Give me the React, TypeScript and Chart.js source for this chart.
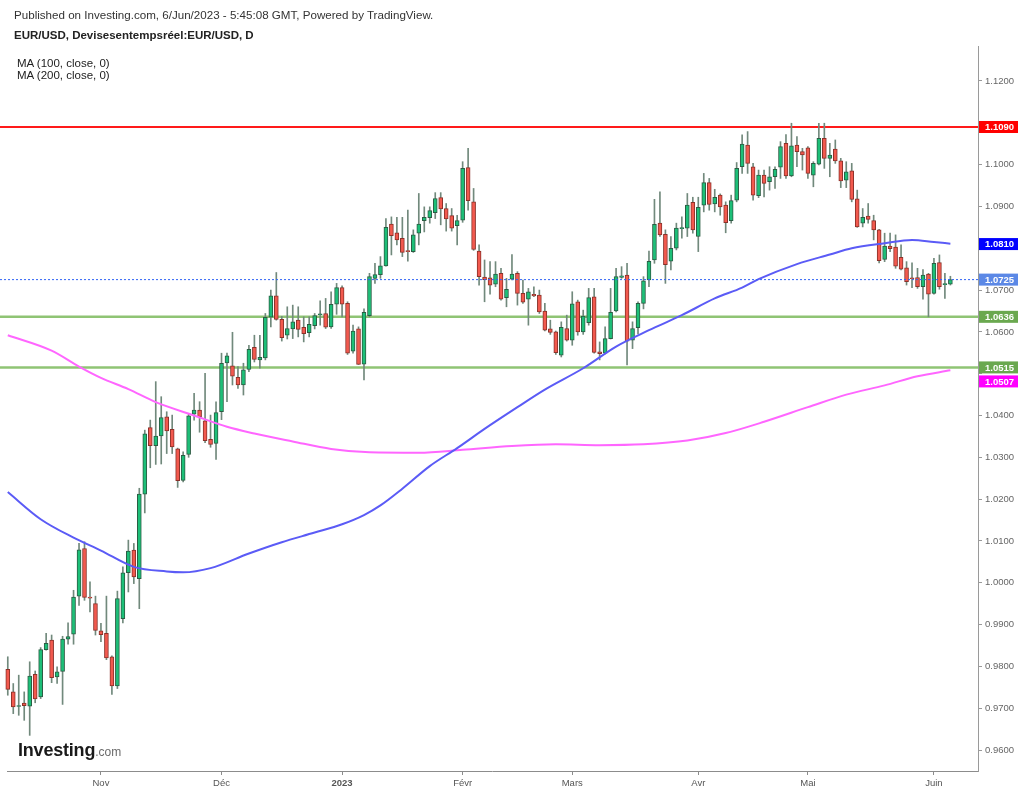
import React, { useEffect, useRef } from "react";
import { Chart, registerables } from "chart.js";

Chart.register(...registerables);

// ---------- DATA ----------
const opens = [
  0.9793, 0.9739, 0.9704, 0.9712, 0.9705, 0.9781, 0.9727, 0.984, 0.9863, 0.9775,
  0.9788, 0.9865, 0.9877, 0.9968, 1.0082, 0.9966, 0.995, 0.9885, 0.9879, 0.9823,
  0.9753, 0.9914, 1.0024, 1.0078, 1.001, 1.0212, 1.0371, 1.0328, 1.0351, 1.0397,
  1.0367, 1.032, 1.0245, 1.0307, 1.0403, 1.0413, 1.0387, 1.0343, 1.0333, 1.0409,
  1.0526, 1.0519, 1.0491, 1.0473, 1.051, 1.0563, 1.0533, 1.0538, 1.0635, 1.0686,
  1.063, 1.0592, 1.0607, 1.0628, 1.0611, 1.0598, 1.0615, 1.0641, 1.0644, 1.0612,
  1.0666, 1.0706, 1.0668, 1.0554, 1.0607, 1.0523, 1.0639, 1.0728, 1.0737, 1.0758,
  1.0858, 1.0837, 1.0824, 1.0794, 1.0792, 1.0836, 1.0866, 1.0873, 1.0885, 1.0921,
  1.0895, 1.0878, 1.0854, 1.0867, 1.0993, 1.0911, 1.0793, 1.0731, 1.0729, 1.0714,
  1.074, 1.0682, 1.0726, 1.074, 1.0692, 1.0678, 1.069, 1.0688, 1.065, 1.0607,
  1.06, 1.0544, 1.0608, 1.058, 1.0672, 1.06, 1.0622, 1.0684, 1.0552, 1.0549,
  1.0584, 1.065, 1.073, 1.0736, 1.058, 1.061, 1.0668, 1.0724, 1.0772, 1.086,
  1.0833, 1.0769, 1.08, 1.0847, 1.0848, 1.091, 1.0828, 1.0903, 1.0957, 1.0906,
  1.0927, 1.0903, 1.0866, 1.0915, 1.0995, 1.1047, 1.0995, 1.0926, 1.0975, 1.0959,
  1.0971, 1.0994, 1.1051, 1.0973, 1.1047, 1.1031, 1.104, 1.0975, 1.1001, 1.1063,
  1.1015, 1.1037, 1.1009, 1.0963, 1.0985, 1.0918, 1.086, 1.0877, 1.0866, 1.0844,
  1.0773, 1.0805, 1.0803, 1.0778, 1.0753, 1.0729, 1.073, 1.0708, 1.0738, 1.0692,
  1.0766, 1.0713, 1.0714,
];

const highs = [
  0.9823, 0.9759, 0.9779, 0.9739, 0.9811, 0.9789, 0.9845, 0.9879, 0.9875, 0.9799,
  0.9872, 0.9904, 0.9982, 1.0094, 1.0098, 1.0002, 0.9968, 0.9903, 0.9968, 0.9825,
  0.998, 1.0038, 1.0102, 1.0094, 1.0226, 1.0365, 1.0389, 1.0481, 1.0445, 1.0409,
  1.0401, 1.0322, 1.0313, 1.0405, 1.0453, 1.0433, 1.0501, 1.0401, 1.0433, 1.0549,
  1.0549, 1.0599, 1.0517, 1.0525, 1.0568, 1.0592, 1.0592, 1.0644, 1.07, 1.0742,
  1.0637, 1.066, 1.0664, 1.066, 1.0636, 1.0636, 1.0644, 1.0674, 1.068, 1.0696,
  1.0716, 1.071, 1.0672, 1.0616, 1.0612, 1.0655, 1.074, 1.0764, 1.078, 1.0871,
  1.0875, 1.0874, 1.0874, 1.0891, 1.0844, 1.0931, 1.0899, 1.0899, 1.0933, 1.0933,
  1.0907, 1.0895, 1.0879, 1.1007, 1.1039, 1.0943, 1.0808, 1.0772, 1.0768, 1.0768,
  1.0752, 1.0728, 1.0785, 1.0744, 1.0724, 1.0704, 1.0708, 1.07, 1.0668, 1.0628,
  1.0602, 1.0624, 1.064, 1.0696, 1.0676, 1.0652, 1.0704, 1.0704, 1.0576, 1.0612,
  1.0704, 1.0752, 1.0756, 1.0764, 1.0624, 1.0672, 1.0732, 1.0793, 1.0917, 1.0935,
  1.0844, 1.0828, 1.086, 1.0875, 1.0931, 1.0922, 1.0922, 1.0979, 1.0967, 1.0941,
  1.093, 1.0911, 1.0927, 1.1005, 1.1071, 1.1079, 1.1003, 1.0987, 1.0987, 1.0995,
  1.0995, 1.1055, 1.1072, 1.1099, 1.1067, 1.1039, 1.1043, 1.1007, 1.1099, 1.1099,
  1.1051, 1.1059, 1.1015, 1.1007, 1.1003, 1.0939, 1.0895, 1.0907, 1.0879, 1.0845,
  1.0836, 1.0836, 1.0832, 1.0808, 1.0768, 1.0765, 1.0752, 1.0749, 1.074, 1.0776,
  1.0784, 1.074, 1.0733,
];

const lows = [
  0.9731, 0.9687, 0.9683, 0.9671, 0.9635, 0.9713, 0.9723, 0.9839, 0.9761, 0.9759,
  0.9709, 0.9853, 0.9853, 0.9946, 0.9958, 0.993, 0.9875, 0.9859, 0.9816, 0.9733,
  0.9747, 0.9904, 0.9978, 0.9998, 0.9938, 1.0167, 1.0275, 1.0283, 1.0284, 1.0309,
  1.0309, 1.0228, 1.0241, 1.03, 1.0389, 1.036, 1.0335, 1.0324, 1.0295, 1.039,
  1.0433, 1.0473, 1.0465, 1.0449, 1.0505, 1.0528, 1.0513, 1.0533, 1.0612, 1.0628,
  1.0578, 1.0583, 1.0584, 1.0588, 1.0576, 1.0588, 1.0607, 1.0616, 1.0608, 1.0608,
  1.0642, 1.0636, 1.0546, 1.0549, 1.0522, 1.0485, 1.0636, 1.0716, 1.0728, 1.0757,
  1.0784, 1.0808, 1.078, 1.0769, 1.079, 1.0808, 1.0839, 1.086, 1.0871, 1.0856,
  1.0841, 1.0841, 1.0808, 1.0862, 1.0891, 1.0795, 1.0712, 1.0672, 1.069, 1.0708,
  1.0676, 1.066, 1.0724, 1.0664, 1.0668, 1.0616, 1.0684, 1.0644, 1.0602, 1.0594,
  1.0546, 1.054, 1.0578, 1.0568, 1.0592, 1.0594, 1.0616, 1.0549, 1.0533, 1.0547,
  1.0583, 1.0648, 1.0728, 1.0521, 1.056, 1.0595, 1.0655, 1.0708, 1.0764, 1.0828,
  1.0716, 1.0748, 1.0796, 1.0824, 1.0828, 1.0836, 1.0792, 1.0887, 1.0891, 1.0887,
  1.0879, 1.0837, 1.086, 1.0911, 1.0979, 1.0979, 1.0915, 1.0921, 1.0923, 1.0939,
  1.0943, 1.0967, 1.0967, 1.0971, 1.0995, 1.0987, 1.0967, 1.0947, 1.0999, 1.0991,
  1.0971, 1.1003, 1.0945, 1.0945, 1.0911, 1.085, 1.0851, 1.086, 1.082, 1.0765,
  1.0768, 1.0792, 1.0752, 1.0748, 1.0712, 1.0706, 1.0704, 1.0678, 1.0636, 1.069,
  1.0702, 1.068, 1.0712,
];

const closes = [
  0.9745, 0.9703, 0.9706, 0.9706, 0.9777, 0.9722, 0.984, 0.9855, 0.9773, 0.9787,
  0.9865, 0.9871, 0.9966, 1.0079, 0.9965, 0.9963, 0.9886, 0.9876, 0.982, 0.9753,
  0.9962, 1.0024, 1.0076, 1.0014, 1.0212, 1.0356, 1.0328, 1.0351, 1.0395, 1.0363,
  1.0325, 1.0244, 1.0305, 1.0399, 1.0413, 1.0397, 1.034, 1.0331, 1.0407, 1.0525,
  1.0543, 1.0494, 1.0473, 1.0509, 1.0558, 1.0534, 1.0539, 1.0635, 1.0686, 1.063,
  1.0586, 1.0608, 1.0624, 1.0606, 1.0596, 1.0618, 1.0639, 1.0643, 1.0611, 1.0666,
  1.0706, 1.0666, 1.0549, 1.0602, 1.0522, 1.0647, 1.0732, 1.0737, 1.0758, 1.085,
  1.083, 1.082, 1.079, 1.0792, 1.0832, 1.0858, 1.0874, 1.089, 1.0919, 1.0894,
  1.087, 1.0848, 1.0866, 1.0991, 1.0914, 1.0797, 1.0732, 1.0725, 1.0712, 1.0738,
  1.0678, 1.0702, 1.0738, 1.0692, 1.0671, 1.0696, 1.0686, 1.0648, 1.0604, 1.0599,
  1.055, 1.0611, 1.058, 1.0667, 1.06, 1.0638, 1.0682, 1.0551, 1.0548, 1.0584,
  1.0647, 1.0732, 1.0734, 1.0578, 1.0608, 1.0668, 1.0722, 1.0769, 1.0857, 1.0832,
  1.0761, 1.08, 1.0848, 1.0849, 1.0903, 1.0844, 1.0898, 1.0957, 1.0905, 1.0922,
  1.0899, 1.0861, 1.0914, 1.0991, 1.1049, 1.1003, 1.0927, 1.0975, 1.0955, 1.0971,
  1.0989, 1.1043, 1.0973, 1.1045, 1.1031, 1.1023, 1.0979, 1.1003, 1.1063, 1.1015,
  1.1023, 1.1009, 1.0961, 1.0983, 1.0917, 1.0851, 1.0874, 1.0869, 1.0844, 1.077,
  1.0805, 1.0799, 1.0757, 1.075, 1.072, 1.0727, 1.0708, 1.0736, 1.069, 1.0764,
  1.0708, 1.0714, 1.0725,
];

// Moving averages, read at sampled bar positions
const ma100Index = [0, 6, 12, 17, 23, 29, 32, 37, 44, 50, 56, 61, 65, 68, 72, 77, 82, 87, 93, 98, 105, 111, 117, 123, 129, 134, 137, 144, 150, 154, 160, 165, 169, 172];
const ma100Values = [1.0217, 1.0152, 1.0108, 1.0077, 1.0038, 1.0027, 1.0025, 1.0035, 1.007, 1.0097, 1.012, 1.014, 1.0162, 1.0185, 1.0225, 1.0279, 1.0322, 1.0368, 1.042, 1.0462, 1.0513, 1.0565, 1.0604, 1.064, 1.068, 1.0706, 1.0726, 1.0762, 1.0785, 1.08, 1.0812, 1.082, 1.0815, 1.0811];

const ma200Index = [0, 8, 13, 17, 22, 27, 34, 40, 45, 52, 59, 66, 75, 83, 92, 100, 108, 116, 124, 131, 138, 146, 153, 160, 166, 172];
const ma200Values = [1.0592, 1.0555, 1.0517, 1.049, 1.0463, 1.0432, 1.04, 1.0373, 1.0357, 1.0338, 1.032, 1.0312, 1.0311, 1.0318, 1.0327, 1.0331, 1.0329, 1.0331, 1.034, 1.0358, 1.0385, 1.042, 1.045, 1.0472, 1.0494, 1.0508];

// Axes
const monthTickIndex = [17, 39, 61, 83, 103, 126, 146, 169];
const monthTickLabels = ["Nov", "Déc", "2023", "Févr", "Mars", "Avr", "Mai", "Juin"];
const yearTickIndex = [61];
const yTickValues = [0.96, 0.97, 0.98, 0.99, 1.0, 1.01, 1.02, 1.03, 1.04, 1.05, 1.06, 1.07, 1.08, 1.09, 1.1, 1.11, 1.12];

// Horizontal levels and price tags
const resistanceLevel = 1.109;
const supportLevels = [1.0636, 1.0515];
const lastPrice = 1.0725;
const tagValues = [1.109, 1.081, 1.0725, 1.0636, 1.0515, 1.0507];

// ---------- STYLE ----------
const FONT = "'Liberation Sans', Arial, Helvetica, sans-serif";
const X_MIN = -1.42;
const X_MAX = 177.04;
const Y_MIN = 0.95498;
const Y_MAX = 1.12837;
const UP_FILL = "#1dbf78";
const UP_LINE = "#2b5c43";
const DOWN_FILL = "#f2594e";
const DOWN_LINE = "#8a3129";
const WICK = "#71897c";
const tagColors = ["#ff0000", "#0000ff", "#5b88e6", "#6aa84f", "#6aa84f", "#ff00ff"];
const HIDE_NEAR_TAG = 0.002;

const overlayPlugin = {
  id: "overlay",
  afterDraw(chart: any) {
    const { ctx, chartArea, scales } = chart;
    const ys = scales.y;
    ctx.save();
    // bottom axis line
    ctx.strokeStyle = "#8c8c8c";
    ctx.lineWidth = 1;
    ctx.beginPath();
    ctx.moveTo(7, Math.round(chartArea.bottom) + 0.5);
    ctx.lineTo(chartArea.right, Math.round(chartArea.bottom) + 0.5);
    ctx.stroke();
    // price tags
    const h = 12;
    const tags = tagValues
      .map((v, i) => ({ v, color: tagColors[i], y: ys.getPixelForValue(v) }))
      .sort((a, b) => a.y - b.y);
    let prevBottom = -Infinity;
    for (const t of tags) {
      let cy = t.y;
      if (cy - h / 2 < prevBottom + 2) cy = prevBottom + 2 + h / 2;
      prevBottom = cy + h / 2;
      const x0 = chartArea.right + 1;
      ctx.fillStyle = t.color;
      ctx.fillRect(x0, cy - h / 2, 39, h);
      ctx.fillStyle = "#ffffff";
      ctx.font = `bold 9.5px ${FONT}`;
      ctx.textBaseline = "middle";
      ctx.textAlign = "left";
      ctx.fillText(t.v.toFixed(4), x0 + 6, cy + 0.5);
    }
    ctx.restore();
  },
};

export default function App() {
  const canvasRef = useRef<HTMLCanvasElement>(null);

  useEffect(() => {
    const canvas = canvasRef.current;
    if (!canvas) return;
    const idx = opens.map((_, i) => i);
    const up = idx.map((i) => closes[i] >= opens[i]);
    const hline = (v: number) => [
      { x: X_MIN, y: v },
      { x: X_MAX, y: v },
    ];

    const chart = new Chart(canvas, {
      type: "bar",
      data: {
        datasets: [
          {
            type: "line",
            data: hline(resistanceLevel),
            borderColor: "#ff1a1a",
            borderWidth: 2,
            pointRadius: 0,
            order: 9,
          } as any,
          ...supportLevels.map(
            (v) =>
              ({
                type: "line",
                data: hline(v),
                borderColor: "#8fc474",
                borderWidth: 2.5,
                pointRadius: 0,
                order: 8,
              } as any)
          ),
          {
            type: "bar",
            data: idx.map((i) => ({ x: i, y: [lows[i], highs[i]] })),
            backgroundColor: WICK,
            borderWidth: 0,
            barThickness: 1,
            grouped: false,
            order: 6,
          } as any,
          {
            type: "bar",
            data: idx.map((i) => ({ x: i, y: [opens[i], closes[i]] })),
            backgroundColor: idx.map((i) => (up[i] ? UP_FILL : DOWN_FILL)),
            borderColor: idx.map((i) => (up[i] ? UP_LINE : DOWN_LINE)),
            borderWidth: 1,
            borderSkipped: false,
            barThickness: 4,
            minBarLength: 1,
            grouped: false,
            order: 5,
          } as any,
          {
            type: "line",
            data: ma200Index.map((x, k) => ({ x, y: ma200Values[k] })),
            borderColor: "#ff66ff",
            borderWidth: 2,
            pointRadius: 0,
            cubicInterpolationMode: "monotone",
            order: 3,
          } as any,
          {
            type: "line",
            data: ma100Index.map((x, k) => ({ x, y: ma100Values[k] })),
            borderColor: "#5b5bf6",
            borderWidth: 2,
            pointRadius: 0,
            cubicInterpolationMode: "monotone",
            order: 2,
          } as any,
          {
            type: "line",
            data: hline(lastPrice),
            borderColor: "#2f62f5",
            borderWidth: 1,
            borderDash: [2, 2],
            pointRadius: 0,
            order: 1,
          } as any,
        ],
      },
      options: {
        responsive: false,
        animation: false,
        events: [],
        layout: { padding: { left: 0, top: 46, right: 0, bottom: 0 } },
        plugins: {
          legend: { display: false },
          tooltip: { enabled: false },
        },
        scales: {
          x: {
            type: "linear",
            min: X_MIN,
            max: X_MAX,
            offset: false,
            afterBuildTicks: (s: any) => {
              s.ticks = monthTickIndex.map((v) => ({ value: v }));
            },
            afterFit: (s: any) => {
              s.height = 22;
            },
            border: { display: false },
            grid: {
              offset: false,
              drawOnChartArea: false,
              drawTicks: true,
              tickLength: 4,
              color: "#8c8c8c",
            },
            ticks: {
              autoSkip: false,
              maxRotation: 0,
              padding: 3,
              color: "#555555",
              font: (c: any) => ({
                family: FONT,
                size: 9.5,
                weight: c.tick && yearTickIndex.includes(c.tick.value) ? "bold" : "normal",
              }),
              callback: (v: any) => {
                const k = monthTickIndex.indexOf(Number(v));
                return k >= 0 ? monthTickLabels[k] : "";
              },
            },
          },
          y: {
            type: "linear",
            position: "right",
            min: Y_MIN,
            max: Y_MAX,
            afterBuildTicks: (s: any) => {
              s.ticks = yTickValues.map((v) => ({ value: v }));
            },
            afterFit: (s: any) => {
              s.width = 46;
            },
            border: { display: true, color: "#9a9a9a", width: 1 },
            grid: { drawOnChartArea: false, tickLength: 4, color: "#9a9a9a" },
            ticks: {
              padding: 3,
              color: "#666666",
              font: { family: FONT, size: 9.5 },
              callback: (v: any) => {
                const n = Number(v);
                const hidden = tagValues.some((t) => Math.abs(t - n) < HIDE_NEAR_TAG);
                return hidden ? "" : n.toFixed(4);
              },
            },
          },
        },
      } as any,
      plugins: [overlayPlugin],
    });
    return () => chart.destroy();
  }, []);

  const textBase: React.CSSProperties = {
    position: "absolute",
    fontFamily: FONT,
    color: "#333333",
    whiteSpace: "nowrap",
    fontSize: 11.6,
    lineHeight: "14px",
  };

  return (
    <div
      style={{
        position: "fixed",
        left: 0,
        top: 0,
        width: 1024,
        height: 793,
        background: "#ffffff",
        overflow: "hidden",
      }}
    >
      <canvas
        ref={canvasRef}
        width={1024}
        height={793}
        style={{ position: "absolute", left: 0, top: 0, width: 1024, height: 793 }}
      />
      <div style={{ ...textBase, left: 14, top: 8 }}>
        Published on Investing.com, 6/Jun/2023 - 5:45:08 GMT, Powered by TradingView.
      </div>
      <div style={{ ...textBase, left: 14, top: 28, fontWeight: "bold", color: "#222222", fontSize: 11.5 }}>
        EUR/USD, Devisesentempsréel:EUR/USD, D
      </div>
      <div style={{ ...textBase, left: 17, top: 56, color: "#222222", fontSize: 11.5 }}>MA (100, close, 0)</div>
      <div style={{ ...textBase, left: 17, top: 68, color: "#222222", fontSize: 11.5 }}>MA (200, close, 0)</div>
      <div
        style={{
          position: "absolute",
          left: 18,
          top: 740,
          fontFamily: FONT,
          whiteSpace: "nowrap",
          lineHeight: "21px",
          display: "flex",
          alignItems: "baseline",
        }}
      >
        <span style={{ fontSize: 18, fontWeight: "bold", color: "#1a1a1a", letterSpacing: -0.2 }}>
          Investing
        </span>
        <span style={{ fontSize: 12, color: "#6b6b6b" }}>.com</span>
      </div>
    </div>
  );
}
